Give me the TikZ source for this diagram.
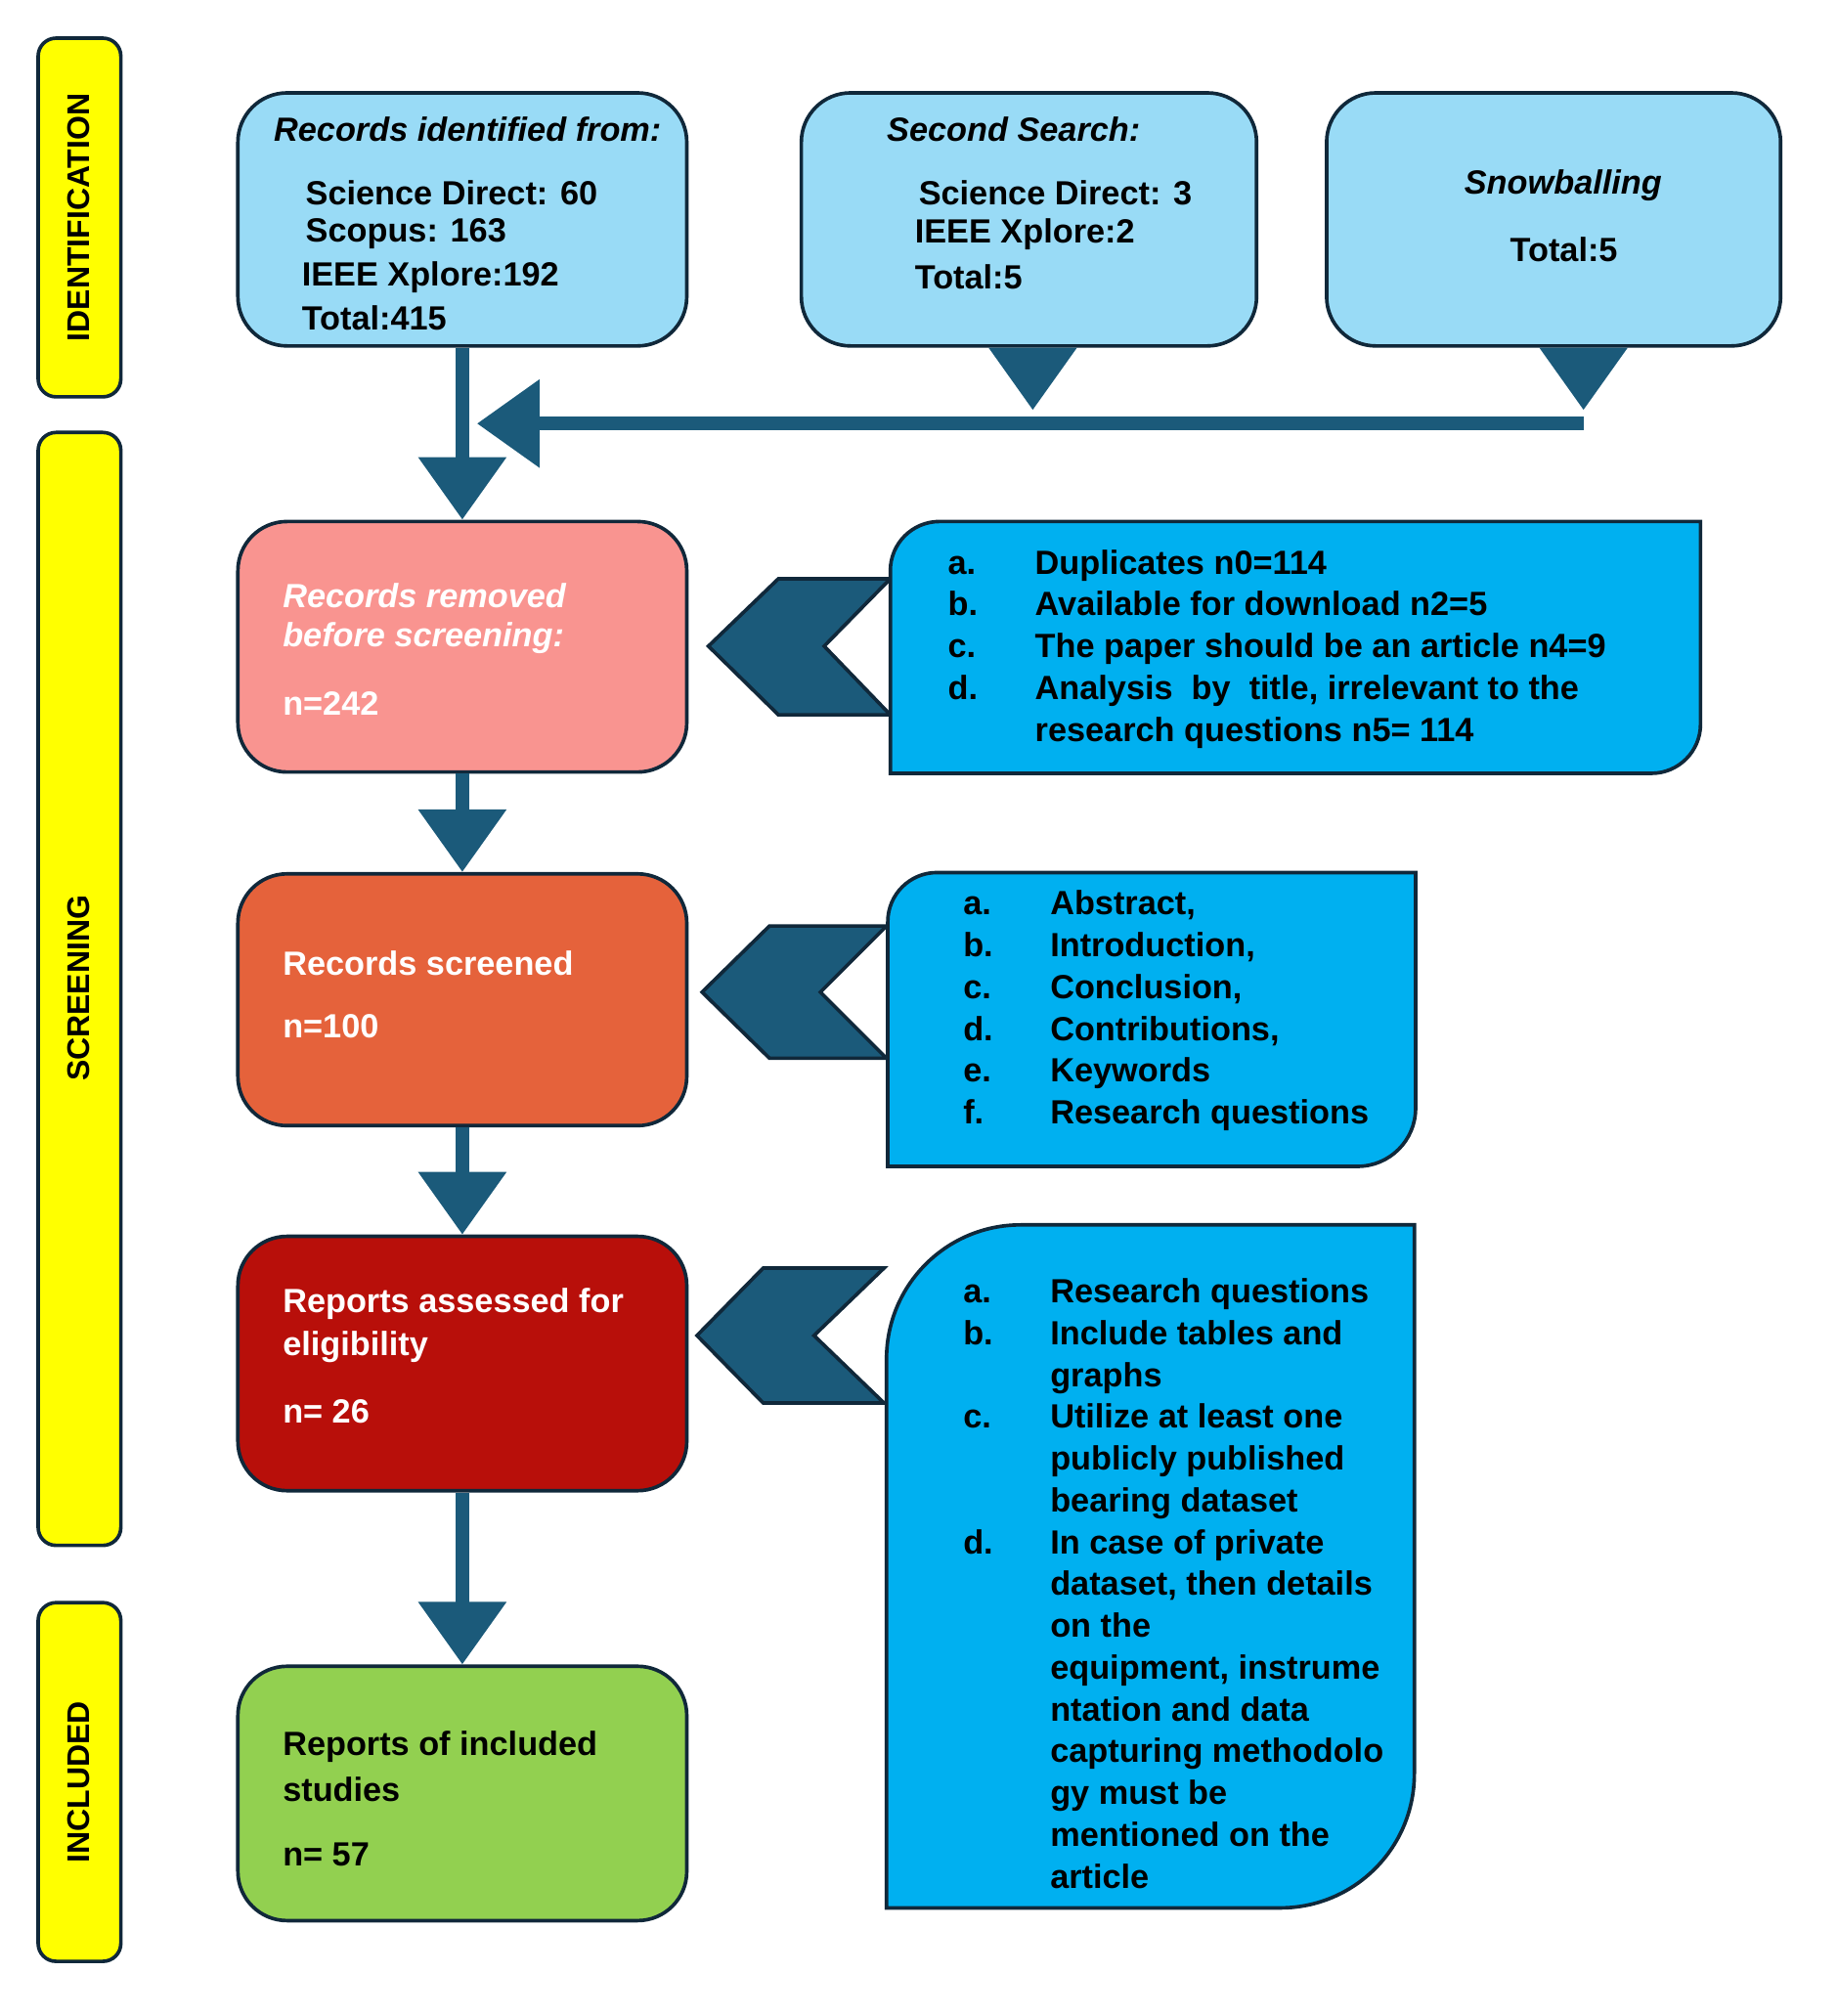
\documentclass[tikz,border=0pt]{standalone}
\usepackage{fontspec}
\setmainfont{Liberation Sans}
\usetikzlibrary{arrows.meta}
\usetikzlibrary{positioning}
\definecolor{stepblue}{HTML}{1B5A7A}
\definecolor{srcblue}{HTML}{99DBF6}
\definecolor{critblue}{HTML}{00B0F0}
\definecolor{band}{HTML}{FFFF00}
\definecolor{removed}{HTML}{F99490}
\definecolor{screened}{HTML}{E5623B}
\definecolor{assessed}{HTML}{B80F0A}
\definecolor{included}{HTML}{92D050}
\definecolor{edge}{HTML}{10283A}
\newcommand{\txt}{\fontsize{15}{18.7}\selectfont\bfseries}

\begin{document}
\begin{tikzpicture}[x=0.02cm, y=-0.02cm,
                phase/.style = {draw=edge, line width=1.6pt, fill=band, rounded corners=8pt},
                stage/.style = {draw=edge, line width=1.6pt, rounded corners=22pt},
                crit/.style = {draw=edge, line width=1.6pt, fill=critblue},
                chev/.style = {draw=edge, line width=1.6pt, fill=stepblue},
                txt/.style = {inner sep=0pt, anchor=west, font=\txt, align=left},
                arr/.style = {draw=stepblue, line width=6pt, -{Triangle[length=28pt, width=38pt]}},
            ]
            \useasboundingbox (0,0) rectangle (1445,1585);

            % phase bands
            \draw[phase] (30,30) rectangle (95,312);
            \draw[phase] (30,340) rectangle (95,1215);
            \draw[phase] (30,1260) rectangle (95,1542);
            \node (idl) [font=\fontsize{14}{16}\selectfont\bfseries, rotate=90] at (62,171) {IDENTIFICATION};
            \node (scl) [font=\fontsize{14}{16}\selectfont\bfseries, rotate=90] at (62,777) {SCREENING};
            \node (inl) [font=\fontsize{14}{16}\selectfont\bfseries, rotate=90] at (62,1401) {INCLUDED};

            % sources
            \node (src1) [stage, fill=srcblue, minimum width=7.06cm, minimum height=3.98cm] at (363.5,172.5) {};
            \node (src2) [stage, fill=srcblue, minimum width=7.16cm, minimum height=3.98cm] at (809,172.5) {};
            \node (src3) [stage, fill=srcblue, minimum width=7.14cm, minimum height=3.98cm] at (1221.5,172.5) {};
            \node [txt, font=\txt\itshape] at (215,102) {Records identified from:};
            \node [txt] at (240,152) {Science Direct: 60};
            \node [txt] at (240,184) {Scopus: 163};
            \node [txt] at (237,218) {IEEE Xplore:192};
            \node [txt] at (237,250) {Total:415};
            \node [txt, font=\txt\itshape] at (697,102) {Second Search:};
            \node [txt] at (722,152) {Science Direct: 3};
            \node [txt] at (719,184) {IEEE Xplore:2};
            \node [txt] at (719,218) {Total:5};
            \node [txt, font=\txt\itshape] at (1151,146) {Snowballing};
            \node [txt] at (1187,196) {Total:5};

            % steps
            \node (rem) [stage, fill=removed, minimum width=7.06cm, minimum height=3.94cm] at (363.5,508.5) {};
            \node (scr) [stage, fill=screened, minimum width=7.06cm, minimum height=3.96cm] at (363.5,786) {};
            \node (ass) [stage, fill=assessed, minimum width=7.06cm, minimum height=4.0cm] at (363.5,1072) {};
            \node (inc) [stage, fill=included, minimum width=7.06cm, minimum height=4.0cm] at (363.5,1410) {};
            \node [txt, white, font=\txt\itshape] at (222,468) {Records removed};
            \node [txt, white, font=\txt\itshape] at (222,502) {before screening:};
            \node [txt, white] at (222,553) {n=242};
            \node [txt, white] at (222,757) {Records screened};
            \node [txt, white] at (222,807) {n=100};
            \node [txt, white] at (222,1025) {Reports assessed for};
            \node [txt, white] at (222,1059) {eligibility};
            \node [txt, white] at (222,1110) {n= 26};
            \node [txt] at (222,1373) {Reports of included};
            \node [txt] at (222,1407) {studies};
            \node [txt] at (222,1458) {n= 57};

            % arrows
            \coordinate (j2) at (812,333);
            \coordinate (j3) at (1245,333);
            \coordinate (jm) at (375,333);
            \path[arr] (src1.south -| rem.north) -- (rem.north);
            \path[arr] (j3) -- (jm);
            \path[arr] (src2.south -| j2) -- ([yshift=6pt]j2);
            \path[arr] (src3.south -| j3) -- ([yshift=6pt]j3);
            \path[arr] (rem.south) -- (scr.north);
            \path[arr] (scr.south) -- (ass.north);
            \path[arr] (ass.south) -- (inc.north);

            % chevrons
            \draw[chev] (700,455) -- (612,455) -- (557,508) -- (612,562) -- (700,562) -- (648,508) -- cycle;
            \draw[chev] (697,728) -- (605,728) -- (552,780) -- (605,832) -- (697,832) -- (645,780) -- cycle;
            \draw[chev] (695,997) -- (600,997) -- (548,1050) -- (600,1103) -- (695,1103) -- (640,1050) -- cycle;

            % criteria
            \draw[crit] (700,608) [rounded corners=22pt] -- (700,410) [sharp corners] -- (1337,410) [rounded corners=22pt] -- (1337,608) [sharp corners] -- cycle;
            \draw[crit] (698,917) [rounded corners=22pt] -- (698,686) [sharp corners] -- (1113,686) [rounded corners=26pt] -- (1113,917) [sharp corners] -- cycle;
            \draw[crit] (697,1500) [rounded corners=60pt] -- (697,963) [sharp corners] -- (1112,963) [rounded corners=60pt] -- (1112,1500) [sharp corners] -- cycle;
            \node (c1) [txt, anchor=north west] at (745,428) {\begin{tabular}{@{}l@{\hspace{0.9cm}}l@{}}
                a. & Duplicates n0=114\\ b. & Available for download n2=5\\
                c. & The paper should be an article n4=9\\ d. & Analysis\ \ by\ \ title, irrelevant to the\\
                   & research questions n5= 114\end{tabular}};
            \node (c2) [txt, anchor=north west] at (757,696) {\begin{tabular}{@{}l@{\hspace{0.9cm}}l@{}}
                a. & Abstract,\\ b. & Introduction,\\ c. & Conclusion,\\ d. & Contributions,\\
                e. & Keywords\\ f. & Research questions\end{tabular}};
            \node (c3) [txt, anchor=north west] at (757,1001) {\begin{tabular}{@{}l@{\hspace{0.9cm}}l@{}}
                a. & Research questions\\ b. & Include tables and\\ & graphs\\
                c. & Utilize at least one\\ & publicly published\\ & bearing dataset\\
                d. & In case of private\\ & dataset, then details\\ & on the\\
                   & equipment, instrume\\ & ntation and data\\ & capturing methodolo\\
                   & gy must be\\ & mentioned on the\\ & article\end{tabular}};
        \end{tikzpicture}
\end{document}
